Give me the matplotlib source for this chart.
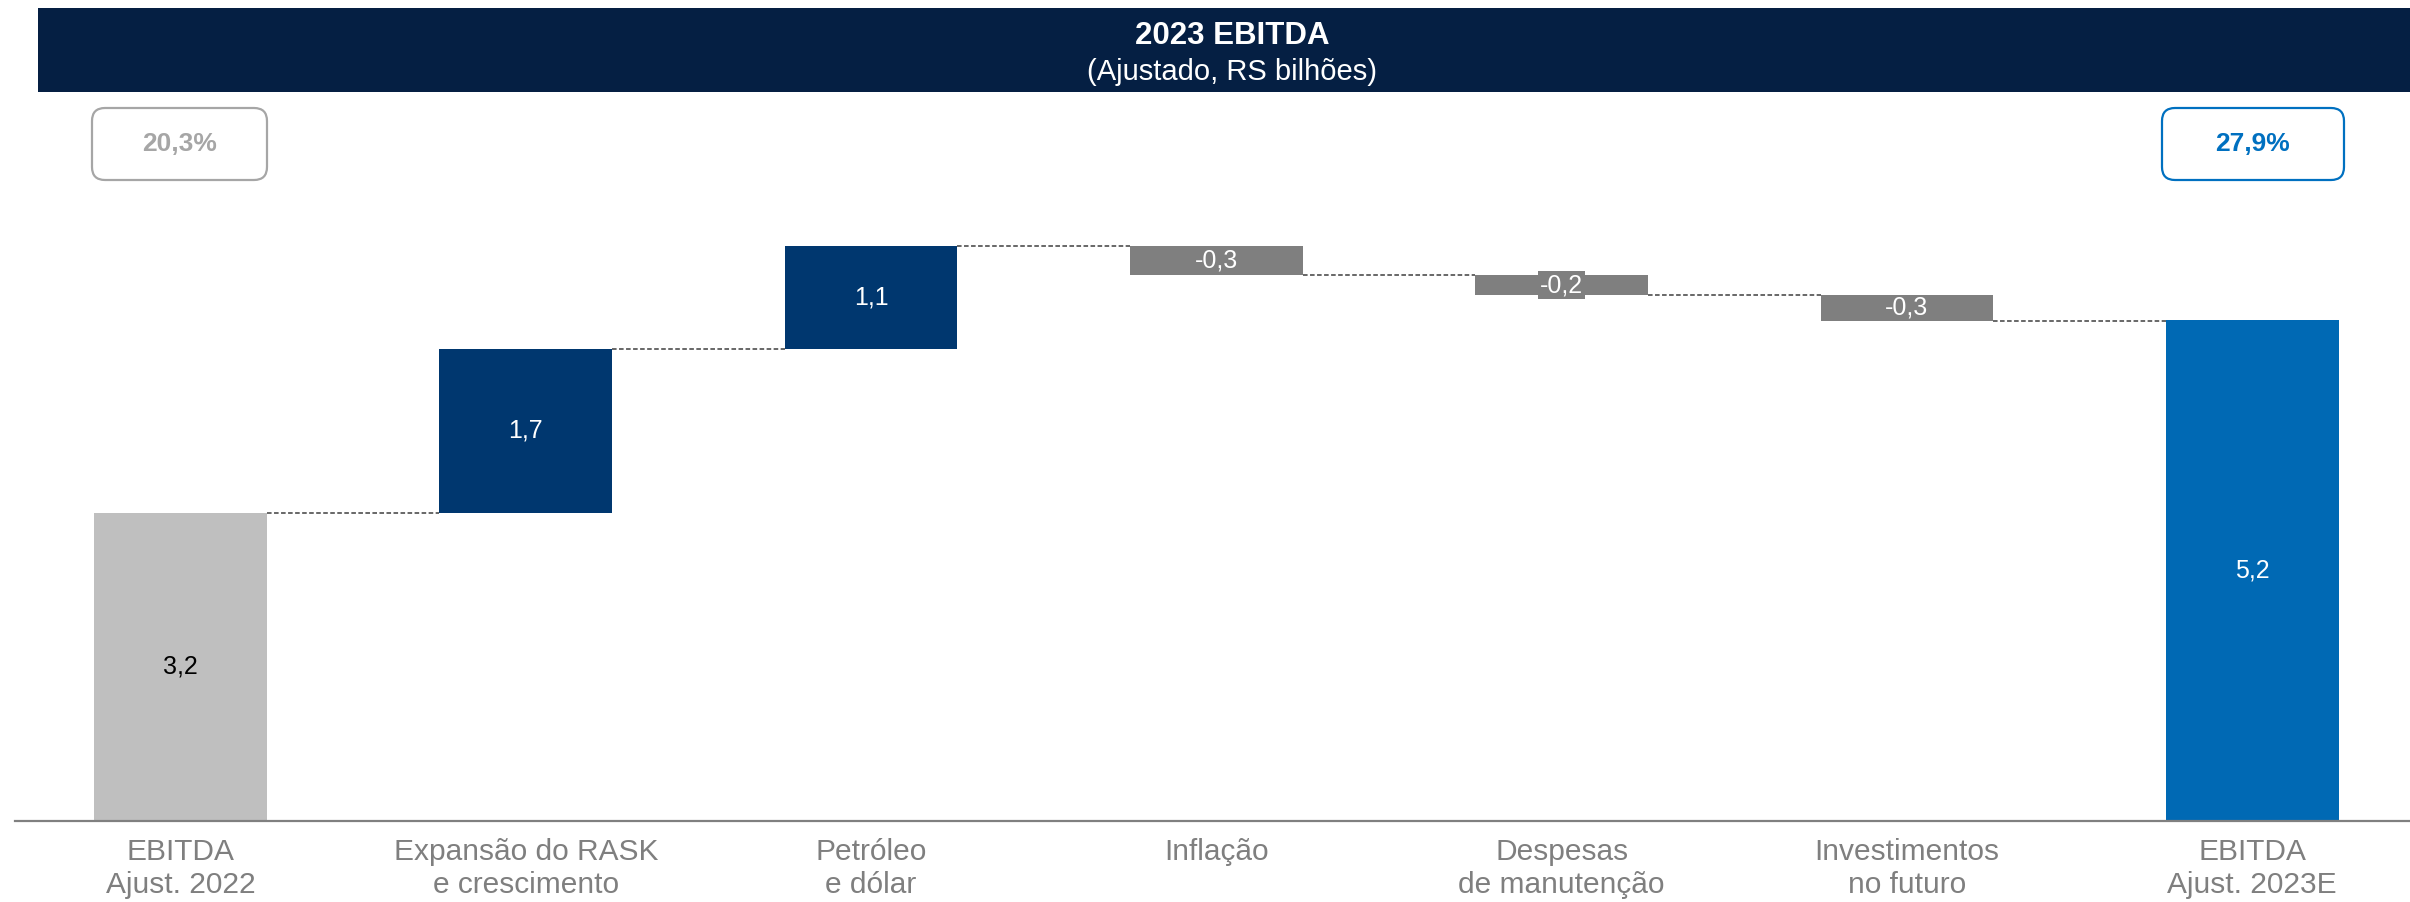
import matplotlib
matplotlib.use("Agg")
import matplotlib.pyplot as plt
from matplotlib.patches import Rectangle, FancyBboxPatch

plt.rcParams['font.family'] = ['Liberation Sans', 'DejaVu Sans']

# data (bar heights as drawn, labels rounded to one decimal)
categories = ["EBITDA\nAjust. 2022", "Expansão do RASK\ne crescimento", "Petróleo\ne dólar",
              "Inflação", "Despesas\nde manutenção", "Investimentos\nno futuro", "EBITDA\nAjust. 2023E"]
values = [3.2, 1.7, 1.06, -0.3, -0.2, -0.27, 5.2]
is_total = [True, False, False, False, False, False, True]
margin_start = "20,3%"
margin_end = "27,9%"
title = "2023 EBITDA"
subtitle = "(Ajustado, RS bilhões)"

# colours
navy_header = "#051f43"
grey_start = "#bfbfbf"
navy_up = "#00376f"
grey_down = "#7f7f7f"
blue_end = "#0069b4"
blue_box = "#0070c0"
grey_box = "#a6a6a6"
label_grey = "#7f7f7f"

W, H = 2410, 902
fig = plt.figure(figsize=(W / 100, H / 100), dpi=100)

# overlay in pixel coordinates for header and margin boxes
ov = fig.add_axes([0, 0, 1, 1], zorder=0)
ov.set_xlim(0, W)
ov.set_ylim(H, 0)
ov.axis("off")
ov.add_patch(Rectangle((38, 8), W - 38, 84, facecolor=navy_header, edgecolor="none"))
ov.text(1232, 44, title, color="white", fontsize=22.5, fontweight="bold", ha="center", va="baseline")
ov.text(1232, 80, subtitle, color="white", fontsize=21, ha="center", va="baseline")

for (x0, x1), txt, col in [((92, 267), margin_start, grey_box), ((2162, 2344), margin_end, blue_box)]:
    ov.add_patch(FancyBboxPatch((x0, 108), x1 - x0, 72, boxstyle="round,pad=0,rounding_size=13",
                                facecolor="white", edgecolor=col, linewidth=1.6))
    ov.text((x0 + x1) / 2, 144, txt, color=col, fontsize=19, fontweight="bold", ha="center", va="center")

# waterfall axes
unit_px = 96.4
base_px = 821
ax_bottom = (H - base_px) / H
ymax = 6.5
ax = fig.add_axes([15 / W, ax_bottom, 1 - 15 / W, ymax * unit_px / H], zorder=1)
ax.patch.set_alpha(0)
spacing = 345.3
ax.set_xlim((15 - 180.5) / spacing, (W - 180.5) / spacing)
ax.set_ylim(0, ymax)

width = 0.5
bottoms, tops, colors = [], [], []
running = 0.0
for i, v in enumerate(values):
    if is_total[i]:
        b, t = 0.0, v
        running = v
        colors.append(grey_start if i == 0 else blue_end)
    else:
        b = running if v > 0 else running + v
        t = running + v if v > 0 else running
        running += v
        colors.append(navy_up if v > 0 else grey_down)
    bottoms.append(b)
    tops.append(t)

x = list(range(len(values)))
heights = [t - b for b, t in zip(bottoms, tops)]
ax.bar(x, heights, bottom=bottoms, width=width, color=colors, edgecolor="none", zorder=2)

# connectors between bars
level = values[0]
for i in range(len(values) - 1):
    if not is_total[i] and i > 0:
        level = level + values[i]
    ax.plot([i + width / 2, i + 1 - width / 2], [level, level], color="#3f3f3f",
            linewidth=1.1, dashes=(3, 1.6), zorder=1)

# value labels
for i, v in enumerate(values):
    txt = f"{v:.1f}".replace(".", ",")
    mid = (bottoms[i] + tops[i]) / 2
    tc = "black" if i == 0 else "white"
    bbox = None
    if abs(v) < 0.25:
        bbox = dict(facecolor=colors[i], edgecolor="none", pad=1.5)
    ax.text(i, mid, txt, ha="center", va="center", fontsize=18, color=tc, bbox=bbox, zorder=3)

ax.set_xticks(x)
ax.set_xticklabels(categories, fontsize=21.5, color=label_grey, linespacing=1.22)
ax.tick_params(axis="x", length=0, pad=12)
ax.set_yticks([])
for s in ["top", "right", "left"]:
    ax.spines[s].set_visible(False)
ax.spines["bottom"].set_color("#808080")
ax.spines["bottom"].set_linewidth(1.6)

fig.savefig("out.png", dpi=100)
